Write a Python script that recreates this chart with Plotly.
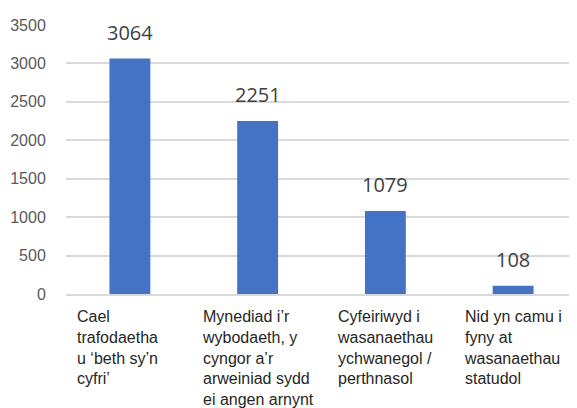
import plotly.graph_objects as go

categories = [
    "Cael<br>trafodaetha<br>u ‘beth sy’n<br>cyfri’",
    "Mynediad i’r<br>wybodaeth, y<br>cyngor a’r<br>arweiniad sydd<br>ei angen arnynt",
    "Cyfeiriwyd i<br>wasanaethau<br>ychwanegol /<br>perthnasol",
    "Nid yn camu i<br>fyny at<br>wasanaethau<br>statudol",
]
values = [3064, 2251, 1079, 108]
tick_vals = [0, 500, 1000, 1500, 2000, 2500, 3000, 3500]

x_idx = list(range(len(categories)))

fig = go.Figure()
fig.add_trace(go.Bar(
    x=x_idx, y=values, width=0.32,
    marker=dict(color="#4472C4", line=dict(width=0)),
    hoverinfo="skip",
))

for i, (cat, v) in enumerate(zip(categories, values)):
    fig.add_annotation(
        x=i, y=v, xref="x", yref="y", text=str(v), showarrow=False,
        yanchor="bottom", yshift=11,
        font=dict(family="Open Sans", size=20, color="#404040"),
    )
    fig.add_annotation(
        x=i, y=0, xref="x", yref="paper", text=cat, showarrow=False,
        xanchor="center", yanchor="top", align="left", yshift=-12,
        xshift=-12 if i == 0 else 0,
        font=dict(family="Liberation Sans", size=16, color="#262626"),
    )

# page body has an 8px default margin, so the figure is sized to fit inside
fig.update_layout(
    width=569, height=400,
    margin=dict(l=58, r=0, t=17, b=114),
    paper_bgcolor="white", plot_bgcolor="white",
    showlegend=False,
    xaxis=dict(
        range=[-0.5, 3.5], showticklabels=False, showgrid=False,
        zeroline=False, showline=True, linecolor="#d9d9d9", linewidth=2,
        fixedrange=True,
    ),
    yaxis=dict(
        range=[0, 3500], tickvals=tick_vals, showgrid=True,
        gridcolor="#d9d9d9", gridwidth=2, zeroline=False, showline=False,
        ticks="outside", ticklen=16, tickcolor="rgba(0,0,0,0)",
        tickfont=dict(family="Liberation Sans", size=16, color="#595959"),
        fixedrange=True,
    ),
)

fig.write_html("out.html")
